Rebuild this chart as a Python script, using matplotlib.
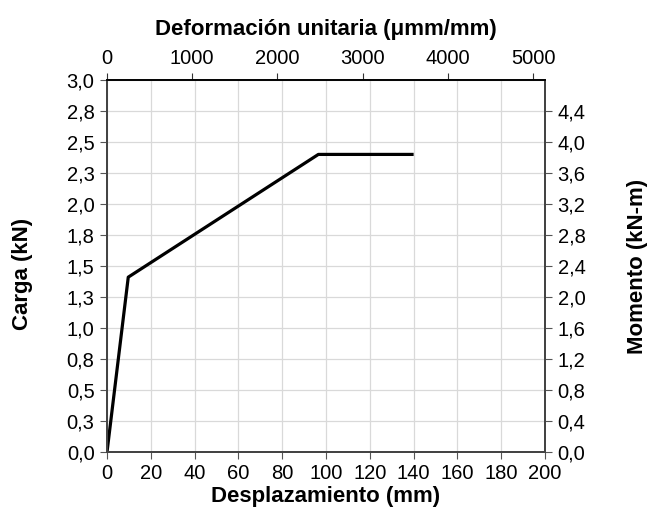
import matplotlib.pyplot as plt

plt.rcParams['font.family'] = ['Liberation Sans', 'DejaVu Sans']

# curva carga - desplazamiento
desplazamiento = [0, 9.7, 96.5, 140]
carga = [0, 1.41, 2.40, 2.40]

# ticks
x_ticks = [0, 20, 40, 60, 80, 100, 120, 140, 160, 180, 200]
y_ticks = [0, 0.25, 0.5, 0.75, 1.0, 1.25, 1.5, 1.75, 2.0, 2.25, 2.5, 2.75, 3.0]
y_labels = ["0,0", "0,3", "0,5", "0,8", "1,0", "1,3", "1,5", "1,8", "2,0", "2,3", "2,5", "2,8", "3,0"]
mom_ticks = [0, 0.4, 0.8, 1.2, 1.6, 2.0, 2.4, 2.8, 3.2, 3.6, 4.0, 4.4]
mom_labels = ["0,0", "0,4", "0,8", "1,2", "1,6", "2,0", "2,4", "2,8", "3,2", "3,6", "4,0", "4,4"]
def_ticks = [0, 1000, 2000, 3000, 4000, 5000]

fs_tick = 14.5
fs_lab = 16

fig = plt.figure(figsize=(6.49, 5.11), dpi=100)
ax = fig.add_axes([0.1649, 0.1155, 0.6749, 0.7279])

ax.plot(desplazamiento, carga, color="black", linewidth=2.3, solid_capstyle="butt")
ax.set_xlim(0, 200)
ax.set_ylim(0, 3.0)
ax.set_xticks(x_ticks)
ax.set_yticks(y_ticks)
ax.set_yticklabels(y_labels)
ax.grid(True, color="#d9d9d9", linewidth=0.9)
ax.set_axisbelow(True)
ax.tick_params(labelsize=fs_tick, direction="out", length=5, color="#555555", pad=4)
ax.set_xlabel("Desplazamiento (mm)", fontsize=fs_lab, fontweight="bold")
ax.set_ylabel("Carga (kN)", fontsize=fs_lab, fontweight="bold")
ax.xaxis.set_label_coords(0.5, -0.092)
ax.yaxis.set_label_coords(-0.17, 0.48)

# eje derecho: momento
ax2 = ax.twinx()
ax2.set_ylim(0, 4.8)
ax2.set_yticks(mom_ticks)
ax2.set_yticklabels(mom_labels)
ax2.tick_params(labelsize=fs_tick, direction="out", length=5, color="#555555", pad=4)
ax2.set_ylabel("Momento (kN-m)", fontsize=fs_lab, fontweight="bold")
ax2.yaxis.set_label_coords(1.188, 0.5)

# eje superior: deformacion
ax3 = ax.twiny()
ax3.set_xlim(0, 5140)
ax3.set_xticks(def_ticks)
ax3.tick_params(labelsize=fs_tick, direction="out", length=5, color="#333333", pad=4)
ax3.set_xlabel("Deformación unitaria (μmm/mm)", fontsize=fs_lab, fontweight="bold")
ax3.xaxis.set_label_coords(0.5, 1.122)

for a in (ax, ax2, ax3):
    for s in a.spines.values():
        s.set_color("#444444")
        s.set_linewidth(1.3)
ax3.spines["top"].set_color("black")

plt.savefig("out.png", dpi=100)
